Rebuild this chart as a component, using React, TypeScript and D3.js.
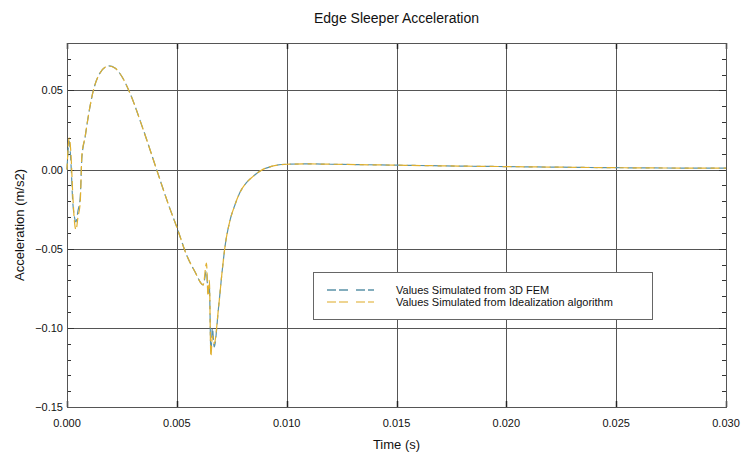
import React, { useRef, useEffect } from "react";
import * as d3 from "d3";

// time (s)
const times = [
  0, 0.0001, 0.00018, 0.00026, 0.00034, 0.00041, 0.0005, 0.0006, 0.00068, 0.00083,
  0.00091, 0.0012, 0.0015, 0.0019, 0.0022, 0.00249, 0.00286, 0.00347, 0.00408, 0.00468,
  0.00499, 0.00544, 0.00582, 0.0062, 0.00635, 0.00642, 0.00648, 0.00655, 0.00662, 0.0067,
  0.0069, 0.00705, 0.00718, 0.00741, 0.00764, 0.00786, 0.00817, 0.00847, 0.0089, 0.0093,
  0.01, 0.011, 0.012, 0.015, 0.018, 0.02, 0.022, 0.025, 0.03,
];

// acceleration (m/s2)
const femValues = [
  0, 0.018, 0.004, -0.02, -0.03, -0.033, -0.026, -0.018, 0.008, 0.021,
  0.0285, 0.05, 0.061, 0.0655, 0.064, 0.059, 0.0485, 0.0253, 0, -0.0245,
  -0.036, -0.0538, -0.0644, -0.0728, -0.064, -0.078, -0.074, -0.115, -0.1, -0.112,
  -0.087, -0.066, -0.05, -0.0327, -0.0225, -0.0148, -0.0082, -0.0043, 0, 0.002,
  0.0034, 0.0036, 0.0034, 0.0028, 0.0022, 0.0019, 0.0016, 0.0012, 0.0009,
];

const idealValues = [
  0, 0.02, 0.01, -0.015, -0.033, -0.038, -0.03, -0.021, 0.0095, 0.021,
  0.0285, 0.05, 0.061, 0.0655, 0.064, 0.059, 0.0485, 0.0253, 0, -0.0245,
  -0.036, -0.0538, -0.0644, -0.0728, -0.059, -0.08, -0.07, -0.118, -0.105, -0.11,
  -0.087, -0.066, -0.05, -0.0327, -0.0225, -0.0148, -0.0082, -0.0043, 0, 0.002,
  0.0034, 0.0036, 0.0034, 0.0028, 0.0022, 0.0019, 0.0016, 0.0012, 0.0009,
];

const xTicks = [0, 0.005, 0.01, 0.015, 0.02, 0.025, 0.03];
const yTicks = [-0.15, -0.1, -0.05, 0, 0.05];
const seriesNames = ["Values Simulated from 3D FEM", "Values Simulated from Idealization algorithm"];
const seriesColors = ["#5b93a8", "#e0b030"];

const App = () => {
  const ref = useRef<SVGSVGElement>(null);

  useEffect(() => {
    const svg = d3.select(ref.current);
    svg.selectAll("*").remove();
    const width = 742;
    const height = 460;
    const margin = { left: 67, right: 16, top: 43, bottom: 53 };
    const font = "Liberation Sans, Arial, sans-serif";

    const x = d3.scaleLinear().domain([0, 0.03]).range([margin.left, width - margin.right]);
    const y = d3.scaleLinear().domain([-0.15, 0.08]).range([height - margin.bottom, margin.top]);
    const x0 = margin.left, x1 = width - margin.right;
    const y0 = height - margin.bottom, y1 = margin.top;

    svg.attr("width", width).attr("height", height);
    svg.append("rect").attr("width", width).attr("height", height).attr("fill", "#fff");

    // grid
    const g = svg.append("g");
    g.selectAll(".vg").data(xTicks.slice(1, -1)).enter().append("line")
      .attr("x1", (d) => Math.round(x(d)) + 0.5).attr("x2", (d) => Math.round(x(d)) + 0.5)
      .attr("y1", y1).attr("y2", y0).attr("stroke", "#555");
    g.selectAll(".hg").data(yTicks.slice(1)).enter().append("line")
      .attr("y1", (d) => Math.round(y(d)) + 0.5).attr("y2", (d) => Math.round(y(d)) + 0.5)
      .attr("x1", x0).attr("x2", x1).attr("stroke", "#555");

    // minor / major ticks inside the frame
    const minorY = d3.range(-15, 9).map((i) => i / 100);
    minorY.forEach((v) => {
      const major = yTicks.some((t) => Math.abs(t - v) < 1e-9);
      const len = major ? 7 : 4;
      const yy = Math.round(y(v)) + 0.5;
      g.append("line").attr("x1", x0).attr("x2", x0 + len).attr("y1", yy).attr("y2", yy).attr("stroke", "#333");
      g.append("line").attr("x1", x1 - len).attr("x2", x1).attr("y1", yy).attr("y2", yy).attr("stroke", "#333");
    });
    xTicks.forEach((v) => {
      const xx = Math.round(x(v)) + 0.5;
      g.append("line").attr("x1", xx).attr("x2", xx).attr("y1", y0).attr("y2", y0 - 6).attr("stroke", "#222").attr("stroke-width", 1.5);
      g.append("line").attr("x1", xx).attr("x2", xx).attr("y1", y1).attr("y2", y1 + 6).attr("stroke", "#222").attr("stroke-width", 1.5);
    });

    // frame
    svg.append("rect").attr("x", x0 + 0.5).attr("y", y1 + 0.5)
      .attr("width", x1 - x0).attr("height", y0 - y1)
      .attr("fill", "none").attr("stroke", "#555");

    // tick labels
    svg.selectAll(".xl").data(xTicks).enter().append("text")
      .attr("x", (d) => x(d)).attr("y", y0 + 20).attr("text-anchor", "middle")
      .attr("font-family", font).attr("font-size", 11).attr("fill", "#111")
      .text((d) => d3.format(".3f")(d));
    svg.selectAll(".yl").data(yTicks).enter().append("text")
      .attr("x", x0 - 4).attr("y", (d) => y(d) + 4).attr("text-anchor", "end")
      .attr("font-family", font).attr("font-size", 11).attr("fill", "#111")
      .text((d) => d3.format(".2f")(d));

    // titles
    svg.append("text").attr("x", (x0 + x1) / 2).attr("y", 23).attr("text-anchor", "middle")
      .attr("font-family", font).attr("font-size", 14).attr("fill", "#111").text("Edge Sleeper Acceleration");
    svg.append("text").attr("x", (x0 + x1) / 2).attr("y", 449).attr("text-anchor", "middle")
      .attr("font-family", font).attr("font-size", 13).attr("fill", "#111").text("Time (s)");
    svg.append("text").attr("transform", `translate(24, ${(y0 + y1) / 2}) rotate(-90)`)
      .attr("text-anchor", "middle").attr("font-family", font).attr("font-size", 13)
      .attr("fill", "#111").text("Acceleration (m/s2)");

    // lines
    const line = d3.line<number>().x((d, i) => x(times[i])).y((d) => y(d)).curve(d3.curveMonotoneX);
    [femValues, idealValues].forEach((vals, k) => {
      svg.append("path").datum(vals).attr("d", line).attr("fill", "none")
        .attr("stroke", seriesColors[k]).attr("stroke-width", 1.2)
        .attr("stroke-dasharray", "9,4").attr("stroke-dashoffset", k * 3);
    });

    // legend
    const lg = svg.append("g");
    lg.append("rect").attr("x", 313.5).attr("y", 272.5).attr("width", 339).attr("height", 47)
      .attr("fill", "#fff").attr("stroke", "#666");
    seriesNames.forEach((name, k) => {
      const ly = 290 + k * 12;
      lg.append("line").attr("x1", 327).attr("x2", 374).attr("y1", ly).attr("y2", ly)
        .attr("stroke", seriesColors[k]).attr("stroke-width", 1.3).attr("opacity", k ? 0.7 : 1)
        .attr("stroke-dasharray", "9,3,9,8");
      lg.append("text").attr("x", 396).attr("y", ly + 4).attr("font-family", font)
        .attr("font-size", 11).attr("fill", "#111").text(name);
    });
  }, []);

  return <svg ref={ref} style={{ position: "absolute", left: 0, top: 0 }}></svg>;
};

export default App;
